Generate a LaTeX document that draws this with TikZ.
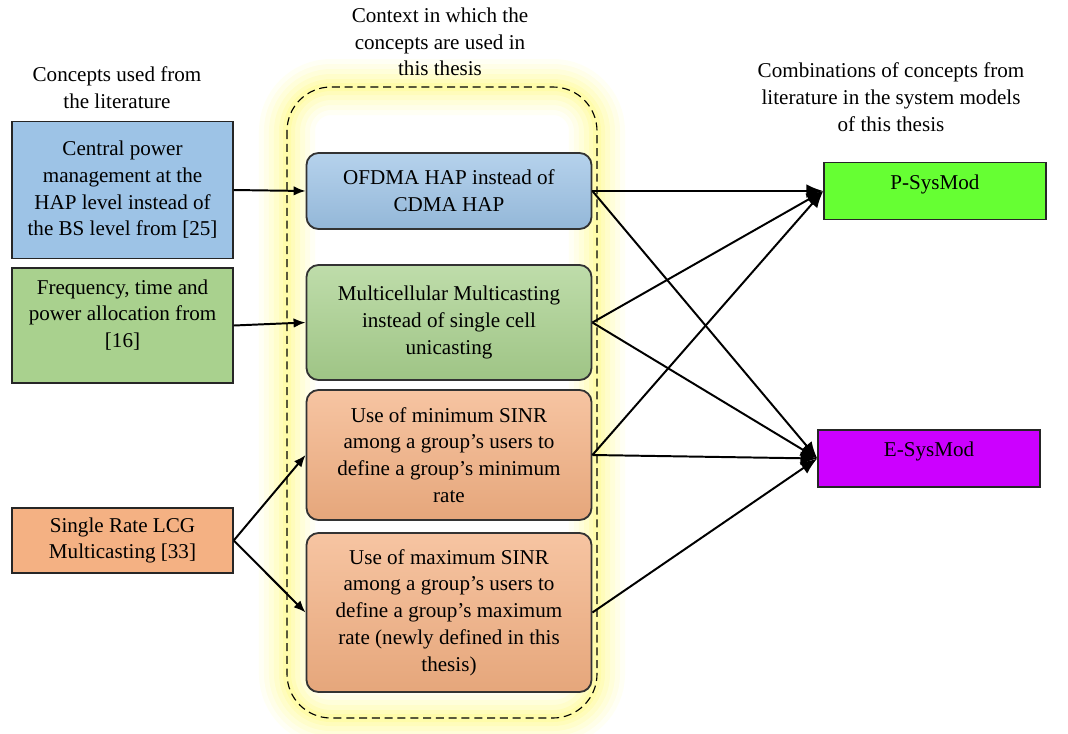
\documentclass[tikz,border=0pt]{standalone}
\usepackage{fontspec}
\setmainfont{Liberation Serif}
\usetikzlibrary{arrows.meta}
\newcommand{\px}{0.025cm}
\definecolor{litblue}{RGB}{157,195,230}
\definecolor{litgreen}{RGB}{169,209,142}
\definecolor{litorange}{RGB}{244,177,131}
\definecolor{psgreen}{RGB}{102,255,51}
\definecolor{espurple}{RGB}{204,0,255}
\definecolor{glowyellow}{RGB}{255,250,120}
\tikzstyle{litbox} = [rectangle, draw=black!85, line width=1pt, minimum width=221*\px, inner sep=0pt, align=center, font=\fontsize{15}{19}\selectfont]
\tikzstyle{sysbox} = [rectangle, draw=black!85, line width=1pt, minimum width=222*\px, minimum height=57*\px, inner sep=0pt, text depth=18*\px, align=center, font=\fontsize{15}{19}\selectfont]
\tikzstyle{heading} = [align=center, font=\fontsize{15}{19}\selectfont]
\tikzstyle{arr} = [-{Latex[length=0.3cm,width=0.24cm]}, line width=1.4pt]
\tikzstyle{bigarr} = [-{Latex[length=0.42cm,width=0.34cm]}, line width=1.4pt]
\tikzset{ctxbox/.style={rectangle, rounded corners=0.3cm, draw=black!80, line width=1.3pt, minimum width=285*\px, inner sep=0pt, align=center, top color=#1!75!white, middle color=#1, bottom color=#1!94!black, font=\fontsize{15}{19}\selectfont}}

\begin{document}
\begin{tikzpicture}[x=\px, y=-\px]
	\useasboundingbox (0,0) rectangle (1068,733);
	% glow and dashed frame
	\foreach \w/\o in {1.4/0.08, 1.15/0.1, 0.9/0.12, 0.65/0.15, 0.4/0.2, 0.2/0.25}
		\draw[glowyellow, line width=\w cm, opacity=\o, rounded corners=1.1cm] (287,87) rectangle (597,718);
	\draw[dashed, dash pattern=on 0.2cm off 0.12cm, line width=0.8pt, rounded corners=1.1cm] (287,87) rectangle (597,718);

	\node[heading] (hdr1) at (117,88) {Concepts used from\\the literature};
	\node[heading] (hdr2) at (440,42) {Context in which the\\concepts are used in\\this thesis};
	\node[heading] (hdr3) at (891,97) {Combinations of concepts from\\literature in the system models\\of this thesis};

	\node[litbox, fill=litblue, minimum height=137*\px] (lit1) at (122.5,190) {Central power\\management at the\\HAP level instead of\\the BS level from [25]};
	\node[litbox, fill=litgreen, minimum height=115*\px, text depth=24*\px] (lit2) at (122.5,325.5) {Frequency, time and\\power allocation from\\{[16]}};
	\node[litbox, fill=litorange, minimum height=65*\px] (lit3) at (122.5,540.5) {Single Rate LCG\\Multicasting [33]};

	\node[ctxbox=litblue, minimum height=76*\px] (ctx1) at (449,191) {OFDMA HAP instead of\\CDMA HAP};
	\node[ctxbox=litgreen, minimum height=115*\px] (ctx2) at (449,322.5) {Multicellular Multicasting\\instead of single cell\\unicasting};
	\node[ctxbox=litorange, minimum height=130*\px] (ctx3) at (449,455) {Use of minimum SINR\\among a group's users to\\define a group's minimum\\rate};
	\node[ctxbox=litorange, minimum height=159*\px] (ctx4) at (449,612.5) {Use of maximum SINR\\among a group's users to\\define a group's maximum\\rate (newly defined in this\\thesis)};

	\node[sysbox, fill=psgreen] (psys) at (935,191) {P-SysMod};
	\node[sysbox, fill=espurple] (esys) at (929,458.5) {E-SysMod};

	\draw[arr] (lit1.east) -- (ctx1.west);
	\draw[arr] (lit2.east) -- (ctx2.west);
	\draw[arr] (lit3.east) -- (ctx3.west);
	\draw[arr] (lit3.east) -- (ctx4.west);
	\foreach \a/\b in {ctx1/psys, ctx1/esys, ctx2/psys, ctx2/esys, ctx3/psys, ctx3/esys, ctx4/esys}
		\draw[bigarr] (\a.east) -- (\b.west);
\end{tikzpicture}
\end{document}
